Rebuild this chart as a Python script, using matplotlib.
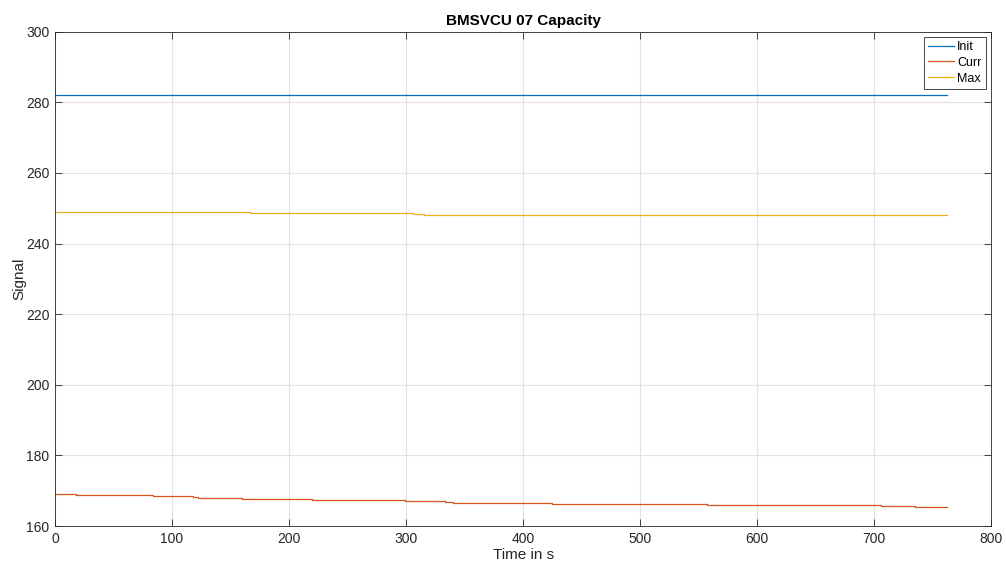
import numpy as np
import matplotlib
matplotlib.use('Agg')
import matplotlib.pyplot as plt

plt.rcParams['font.family'] = ['Liberation Sans', 'DejaVu Sans']

# signal step data: change times (s) and values held until the next change
t_end = 762
init_t = [0]
init_v = [282.0]
curr_t = [0, 18, 76, 84, 118, 122, 160, 220, 299, 306, 333, 340, 425, 557, 706, 735]
curr_v = [169.2, 168.9, 168.7, 168.5, 168.2, 168.0, 167.7, 167.4, 167.2, 167.0,
          166.8, 166.5, 166.2, 166.0, 165.7, 165.4]
max_t = [0, 96, 167, 306, 315]
max_v = [249.0, 248.8, 248.5, 248.3, 248.0]

series = [('Init', init_t, init_v, '#0072BD'),
          ('Curr', curr_t, curr_v, '#D95319'),
          ('Max', max_t, max_v, '#EDB120')]

fig = plt.figure(figsize=(10.06, 5.65), dpi=100)
ax = fig.add_axes([0.0547, 0.069, 0.9305, 0.875])

for name, t, v, c in series:
    tt = list(t) + [t_end]
    vv = list(v) + [v[-1]]
    ax.plot(tt, vv, drawstyle='steps-post', color=c, lw=0.9, label=name)

ax.set_xlim(0, 800)
ax.set_ylim(160, 300)
ax.set_xticks(np.arange(0, 801, 100))
ax.set_yticks(np.arange(160, 301, 20))
ax.grid(True, color='#e2e2e2', lw=0.8)
ax.set_axisbelow(True)
ax.tick_params(direction='in', length=5, width=0.6, colors='#262626',
               labelsize=10, top=True, right=True, pad=4)
for s in ax.spines.values():
    s.set_color('#262626')
    s.set_linewidth(0.6)

ax.set_title('BMSVCU 07 Capacity', fontsize=11, fontweight='bold', pad=5)
ax.set_xlabel('Time in s', fontsize=11, color='#262626', labelpad=2)
ax.set_ylabel('Signal', fontsize=11, color='#262626', labelpad=0)

leg = ax.legend(loc='upper right', fontsize=9, handlelength=2.1, handletextpad=0.25,
                borderpad=0.35, labelspacing=0.3, fancybox=False, framealpha=1,
                borderaxespad=0.4)
leg.get_frame().set_edgecolor('#262626')
leg.get_frame().set_linewidth(0.6)

fig.savefig('out.png', dpi=100)
